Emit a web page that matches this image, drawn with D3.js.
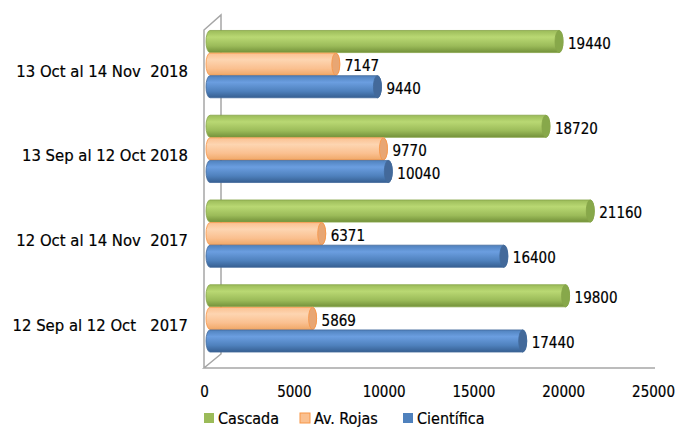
<!DOCTYPE html>
<meta charset="utf-8">
<title>Cascada / Av. Rojas / Cientifica</title>
<style>
  body { margin: 0; background: #fff; }
  text { font-family: 'DejaVu Sans Condensed', 'DejaVu Sans', sans-serif; font-stretch: condensed; font-size: 15px; fill: #000; stroke: #000; stroke-width: 0.2px; }
  .cat { font-size: 16.5px; }
  .legtext { font-size: 16px; }
  .tick text { font-size: 15px; }
  .wall { fill: none; stroke: #a6a6a6; stroke-width: 1.5px; }
</style>
<body>
<svg width="679" height="428"></svg>
<script src="https://cdn.jsdelivr.net/npm/d3@7"></script>
<script>

var categories = ["13 Oct al 14 Nov  2018", "13 Sep al 12 Oct 2018", "12 Oct al 14 Nov  2017", "12 Sep al 12 Oct   2017"];
var seriesNames = ["Cascada", "Av. Rojas", "Científica"];
var cascada = [19440, 18720, 21160, 19800];
var avRojas = [7147, 9770, 6371, 5869];
var cientifica = [9440, 10040, 16400, 17440];
var xTicks = [0, 5000, 10000, 15000, 20000, 25000];

var colors = {
  "Cascada":    { light: "#b9d873", mid: "#9bbb59", dark: "#73913a", cap: "#87a84a", stroke: "#86a449" },
  "Av. Rojas":  { light: "#fdd5b1", mid: "#fac090", dark: "#f0a868", cap: "#e8a673", stroke: "#f79646" },
  "Científica": { light: "#6b9ee0", mid: "#4f81bd", dark: "#365f91", cap: "#43699a", stroke: "#41699a" }
};

var values = { "Cascada": cascada, "Av. Rojas": avRojas, "Científica": cientifica };

var svg = d3.select("svg");
var defs = svg.append("defs");

// bars sit at the back depth, ticks at the front plane
var x = d3.scaleLinear().domain([0, 25000]).range([210, 664]);
var xFront = d3.scaleLinear().domain([0, 25000]).range([204, 653]);

var y = d3.scaleBand().domain(categories).range([22, 361]).paddingInner(0.2).paddingOuter(0.1);
var ySub = d3.scaleBand().domain(seriesNames).range([0, y.bandwidth()]);

seriesNames.forEach(function(s, i) {
  var g = defs.append("linearGradient").attr("id", "grad" + i)
    .attr("x1", 0).attr("y1", 0).attr("x2", 0).attr("y2", 1);
  g.append("stop").attr("offset", "0%").attr("stop-color", colors[s].mid);
  g.append("stop").attr("offset", "30%").attr("stop-color", colors[s].light);
  g.append("stop").attr("offset", "70%").attr("stop-color", colors[s].mid);
  g.append("stop").attr("offset", "100%").attr("stop-color", colors[s].dark);
});

// 3D wall / floor outline
var wall = svg.append("g").attr("class", "wall");
wall.append("path").attr("d", "M204,368 L204,30 L221,15 L221,354 L204,368 L655,368");

// bars
var rx = 4;
categories.forEach(function(cat, ci) {
  seriesNames.forEach(function(s, si) {
    var v = values[s][ci];
    var y0 = y(cat) + ySub(s), h = ySub.bandwidth() - 0.5;
    var x0 = x(0), x1 = x(v) - rx;
    var g = svg.append("g");
    g.append("path")
      .attr("d", "M" + x0 + "," + y0 + " L" + x1 + "," + y0 +
        " A" + rx + "," + (h / 2) + " 0 0 1 " + x1 + "," + (y0 + h) +
        " L" + x0 + "," + (y0 + h) +
        " A" + rx + "," + (h / 2) + " 0 0 1 " + x0 + "," + y0 + " Z")
      .attr("fill", "url(#grad" + si + ")")
      .attr("stroke", colors[s].stroke)
      .attr("stroke-width", 0.8);
    g.append("ellipse")
      .attr("cx", x1).attr("cy", y0 + h / 2)
      .attr("rx", rx).attr("ry", h / 2)
      .attr("fill", colors[s].cap)
      .attr("stroke", colors[s].stroke)
      .attr("stroke-width", 0.8);

    var t = svg.append("text")
      .attr("x", x(v) + 5)
      .attr("y", y0 + h / 2 + 2)
      .attr("dy", "0.35em")
      .text(v);
    if (s == "Av. Rojas") {
      var bb = t.node().getBBox();
      svg.insert("rect", "text")
        .attr("x", bb.x - 2).attr("y", bb.y + 1)
        .attr("width", bb.width + 3).attr("height", bb.height - 2)
        .attr("fill", "#fff");
    }
  });
});

// category labels
svg.selectAll(".cat")
  .data(categories).enter()
  .append("text")
  .attr("class", "cat")
  .attr("x", 188)
  .attr("y", function(d) { return y(d) + y.bandwidth() / 2 + 6.5; })
  .attr("dy", "0.35em")
  .attr("text-anchor", "end")
  .style("white-space", "pre")
  .attr("xml:space", "preserve")
  .text(function(d) { return d; });

// x axis labels
var axis = d3.axisBottom(xFront).tickValues(xTicks).tickSize(0).tickPadding(0).tickFormat(d3.format("d"));
var ax = svg.append("g").attr("transform", "translate(0,386)").call(axis);
ax.select(".domain").remove();
ax.selectAll("text").attr("font-size", null).attr("font-family", null).attr("fill", null);

// legend
var legX = [204, 300, 403];
var leg = svg.selectAll(".leg")
  .data(seriesNames).enter()
  .append("g")
  .attr("transform", function(d, i) { return "translate(" + legX[i] + ",418)"; });
leg.append("rect")
  .attr("x", 0).attr("y", -5).attr("width", 10).attr("height", 10)
  .attr("fill", function(d) { return colors[d].mid; })
  .attr("stroke", function(d) { return d == "Av. Rojas" ? colors[d].stroke : "none"; });
leg.append("text")
  .attr("class", "legtext")
  .attr("x", 14).attr("dy", "0.35em")
  .text(function(d) { return d; });

</script>
</body>
